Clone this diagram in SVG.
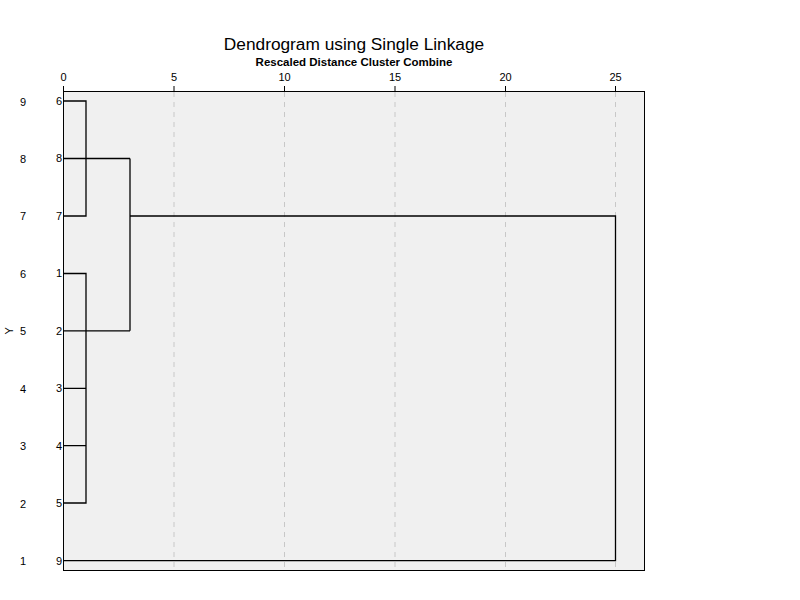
<svg xmlns="http://www.w3.org/2000/svg" width="800" height="600" viewBox="0 0 800 600">
<style>
text{font-family:"Liberation Sans",Arial,sans-serif;fill:#000}
.t{font-size:17.3px;text-anchor:middle}
.st{font-size:11.5px;font-weight:bold;text-anchor:middle}
.tick{font-size:11px;text-anchor:middle}
.rl{font-size:11px;text-anchor:middle}
.cl{font-size:11px;text-anchor:end}
.grid{stroke:#c8c8c8;stroke-width:1;stroke-dasharray:5,5}
.ln{stroke:#000;stroke-width:1.3;fill:none}
</style>
<rect width="800" height="600" fill="#fff"/>
<text class="t" x="354" y="50">Dendrogram using Single Linkage</text>
<text class="st" x="354" y="66">Rescaled Distance Cluster Combine</text>
<g id="plot">
<rect x="63.5" y="91.5" width="581" height="479" fill="#f0f0f0" stroke="#000" stroke-width="1"/>
<g id="grid">
<line class="grid" x1="174" y1="92" x2="174" y2="570"/>
<line class="grid" x1="284.5" y1="92" x2="284.5" y2="570"/>
<line class="grid" x1="395" y1="92" x2="395" y2="570"/>
<line class="grid" x1="505.5" y1="92" x2="505.5" y2="570"/>
<line class="grid" x1="615.5" y1="92" x2="615.5" y2="570"/>
</g>
<g id="ticks" stroke="#000" stroke-width="1">
<line x1="63.5" y1="86" x2="63.5" y2="92"/>
<line x1="174" y1="86" x2="174" y2="92"/>
<line x1="284.5" y1="86" x2="284.5" y2="92"/>
<line x1="395" y1="86" x2="395" y2="92"/>
<line x1="505.5" y1="86" x2="505.5" y2="92"/>
<line x1="615.5" y1="86" x2="615.5" y2="92"/>
</g>
<g id="ticklabels">
<text class="tick" x="63.5" y="81">0</text>
<text class="tick" x="174" y="81">5</text>
<text class="tick" x="284.5" y="81">10</text>
<text class="tick" x="395" y="81">15</text>
<text class="tick" x="505.5" y="81">20</text>
<text class="tick" x="615.5" y="81">25</text>
</g>
</g>
<g id="rowlabels">
<text class="rl" x="23" y="106">9</text>
<text class="rl" x="23" y="163">8</text>
<text class="rl" x="23" y="220">7</text>
<text class="rl" x="23" y="278">6</text>
<text class="rl" x="23" y="335">5</text>
<text class="rl" x="23" y="393">4</text>
<text class="rl" x="23" y="450">3</text>
<text class="rl" x="23" y="508">2</text>
<text class="rl" x="23" y="565">1</text>
<text class="rl" x="0" y="0" transform="translate(13,330.8) rotate(-90)">Y</text>
</g>
<g id="caselabels">
<text class="cl" x="62" y="105">6</text>
<text class="cl" x="62" y="162">8</text>
<text class="cl" x="62" y="220">7</text>
<text class="cl" x="62" y="277">1</text>
<text class="cl" x="62" y="335">2</text>
<text class="cl" x="62" y="392">3</text>
<text class="cl" x="62" y="450">4</text>
<text class="cl" x="62" y="507">5</text>
<text class="cl" x="62" y="565">9</text>
</g>
<g id="connectors">
<path class="ln" d="M63.5,101 H86 V216 H63.5"/>
<path class="ln" d="M63.5,158.5 H130"/>
<path class="ln" d="M63.5,273.5 H86 V503 H63.5"/>
<path class="ln" d="M63.5,388.3 H86 M63.5,445.7 H86"/>
<path class="ln" d="M63.5,330.8 H130"/>
<path class="ln" d="M130,158.5 V330.8"/>
<path class="ln" d="M130,216 H615.5 V560.6 H63.5"/>
</g>
</svg>
